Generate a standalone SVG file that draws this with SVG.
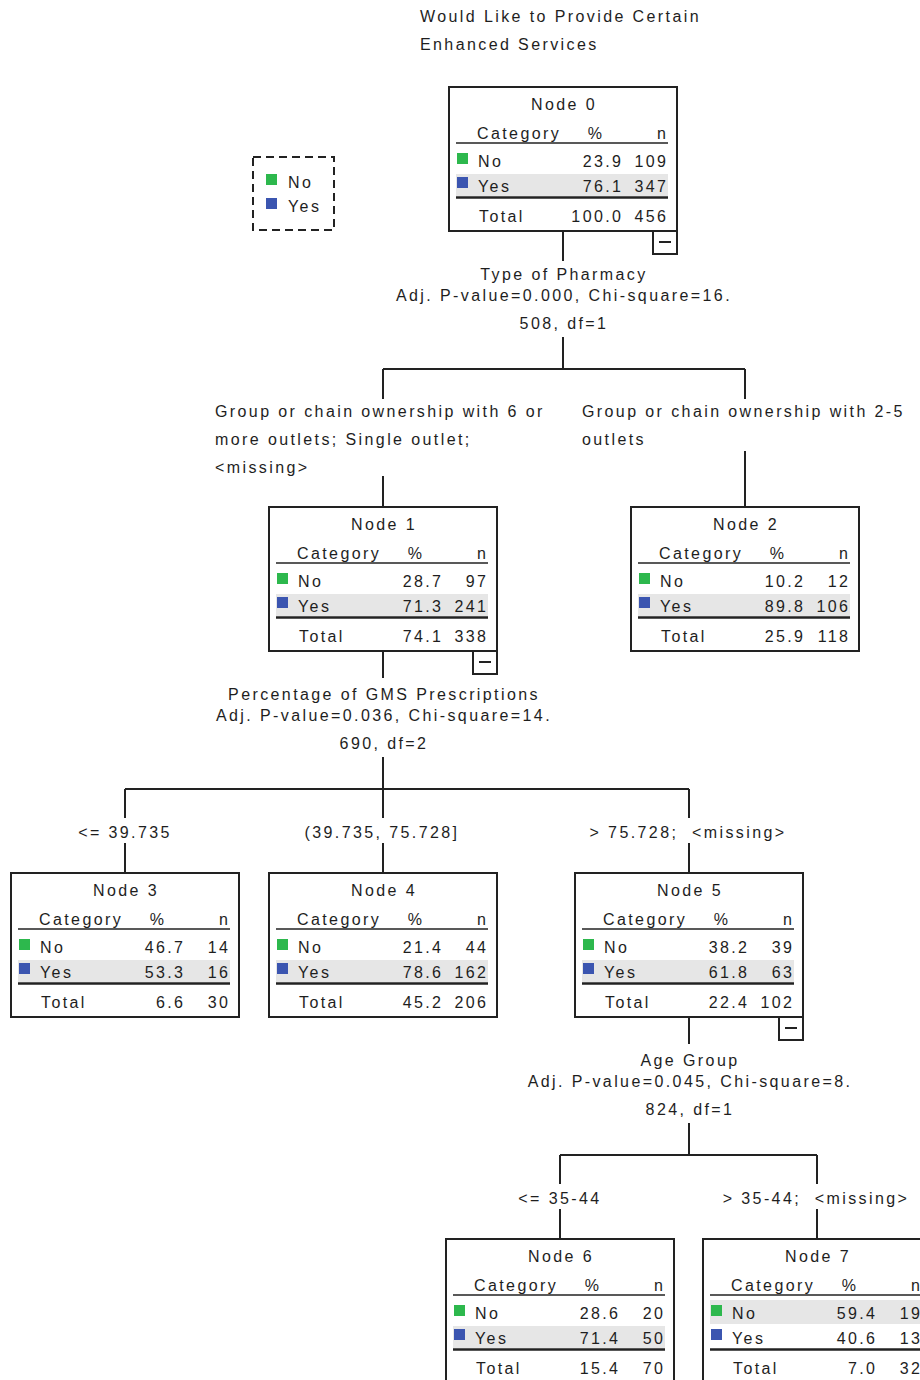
<svg xmlns="http://www.w3.org/2000/svg" width="920" height="1380" viewBox="0 0 920 1380">
<style>
.t{font-family:"Liberation Sans",Arial,sans-serif;font-size:16px;letter-spacing:2.4px;fill:#1e1e1e}
.m{text-anchor:middle}
.e{text-anchor:end}
.box{fill:#fff;stroke:#222;stroke-width:2}
.hl{fill:#e6e6e6}
.ln{stroke:#222;stroke-width:2;fill:none}
.hd{stroke:#222;stroke-width:1.6}
.tk{stroke:#222;stroke-width:2.6}
.g{fill:#2db84d}
.b{fill:#3b55b0}
</style>
<rect width="920" height="1380" fill="#fff"/>

<g id="title">
<text class="t" x="420" y="22">Would Like to Provide Certain</text>
<text class="t" x="420" y="50">Enhanced Services</text>
</g>

<g id="legend">
<rect x="253" y="157" width="81" height="73" fill="none" stroke="#222" stroke-width="2" stroke-dasharray="8 5"/>
<rect class="g" x="266" y="174" width="11" height="11"/>
<text class="t" x="288" y="188">No</text>
<rect class="b" x="266" y="198" width="11" height="11"/>
<text class="t" x="288" y="212">Yes</text>
</g>

<g id="connectors">
<path class="ln" d="M563 231V261M563 337V369M383 369H745M383 369V399M745 369V399M383 476V507M745 451V507"/>
<path class="ln" d="M383 651V678M383 757V789M125 789H689M125 789V818M383 789V818M689 789V818M125 843V873M383 843V873M689 843V873"/>
<path class="ln" d="M689 1017V1044M689 1123V1155M560 1155H817M560 1155V1184M817 1155V1184M560 1209V1239M817 1209V1239"/>
</g>

<g id="split-labels">
<text class="t m" x="564" y="280">Type of Pharmacy</text>
<text class="t m" x="564" y="301">Adj. P-value=0.000, Chi-square=16.</text>
<text class="t m" x="564" y="329">508, df=1</text>
<text class="t m" x="384" y="700">Percentage of GMS Prescriptions</text>
<text class="t m" x="384" y="721">Adj. P-value=0.036, Chi-square=14.</text>
<text class="t m" x="384" y="749">690, df=2</text>
<text class="t m" x="690" y="1066">Age Group</text>
<text class="t m" x="690" y="1087">Adj. P-value=0.045, Chi-square=8.</text>
<text class="t m" x="690" y="1115">824, df=1</text>
</g>

<g id="branch-labels">
<text class="t" x="215" y="417">Group or chain ownership with 6 or</text>
<text class="t" x="215" y="445">more outlets; Single outlet;</text>
<text class="t" x="215" y="473">&lt;missing&gt;</text>
<text class="t" x="582" y="417">Group or chain ownership with 2-5</text>
<text class="t" x="582" y="445">outlets</text>
<text class="t m" x="125" y="838">&lt;= 39.735</text>
<text class="t m" x="382" y="838">(39.735, 75.728]</text>
<text class="t m" x="688" y="838">&gt; 75.728;&#160; &lt;missing&gt;</text>
<text class="t m" x="560" y="1204">&lt;= 35-44</text>
<text class="t m" x="816" y="1204">&gt; 35-44;&#160; &lt;missing&gt;</text>
</g>

<g id="node0" transform="translate(449,87)">
<rect class="box" width="228" height="144"/>
<text class="t m" x="115" y="23">Node 0</text>
<text class="t" x="28" y="52">Category</text>
<text class="t m" x="147" y="52">%</text>
<text class="t e" x="219.4" y="52">n</text>
<line class="hd" x1="7" y1="56" x2="219" y2="56"/>
<rect class="hl" x="7" y="87" width="212" height="22"/>
<rect class="g" x="8" y="66" width="11" height="11"/>
<text class="t" x="29" y="80">No</text>
<text class="t e" x="174.4" y="80">23.9</text>
<text class="t e" x="219.4" y="80">109</text>
<rect class="b" x="8" y="90" width="11" height="11"/>
<text class="t" x="29" y="104.5">Yes</text>
<text class="t e" x="174.4" y="104.5">76.1</text>
<text class="t e" x="219.4" y="104.5">347</text>
<line class="tk" x1="7" y1="110.5" x2="219" y2="110.5"/>
<text class="t" x="30" y="134.5">Total</text>
<text class="t e" x="174.4" y="134.5">100.0</text>
<text class="t e" x="219.4" y="134.5">456</text>
<rect class="box" x="204" y="144" width="24" height="23"/>
<line class="ln" x1="210" y1="155" x2="222" y2="155"/>
</g>

<g id="node1" transform="translate(269,507)">
<rect class="box" width="228" height="144"/>
<text class="t m" x="115" y="23">Node 1</text>
<text class="t" x="28" y="52">Category</text>
<text class="t m" x="147" y="52">%</text>
<text class="t e" x="219.4" y="52">n</text>
<line class="hd" x1="7" y1="56" x2="219" y2="56"/>
<rect class="hl" x="7" y="87" width="212" height="22"/>
<rect class="g" x="8" y="66" width="11" height="11"/>
<text class="t" x="29" y="80">No</text>
<text class="t e" x="174.4" y="80">28.7</text>
<text class="t e" x="219.4" y="80">97</text>
<rect class="b" x="8" y="90" width="11" height="11"/>
<text class="t" x="29" y="104.5">Yes</text>
<text class="t e" x="174.4" y="104.5">71.3</text>
<text class="t e" x="219.4" y="104.5">241</text>
<line class="tk" x1="7" y1="110.5" x2="219" y2="110.5"/>
<text class="t" x="30" y="134.5">Total</text>
<text class="t e" x="174.4" y="134.5">74.1</text>
<text class="t e" x="219.4" y="134.5">338</text>
<rect class="box" x="204" y="144" width="24" height="23"/>
<line class="ln" x1="210" y1="155" x2="222" y2="155"/>
</g>

<g id="node2" transform="translate(631,507)">
<rect class="box" width="228" height="144"/>
<text class="t m" x="115" y="23">Node 2</text>
<text class="t" x="28" y="52">Category</text>
<text class="t m" x="147" y="52">%</text>
<text class="t e" x="219.4" y="52">n</text>
<line class="hd" x1="7" y1="56" x2="219" y2="56"/>
<rect class="hl" x="7" y="87" width="212" height="22"/>
<rect class="g" x="8" y="66" width="11" height="11"/>
<text class="t" x="29" y="80">No</text>
<text class="t e" x="174.4" y="80">10.2</text>
<text class="t e" x="219.4" y="80">12</text>
<rect class="b" x="8" y="90" width="11" height="11"/>
<text class="t" x="29" y="104.5">Yes</text>
<text class="t e" x="174.4" y="104.5">89.8</text>
<text class="t e" x="219.4" y="104.5">106</text>
<line class="tk" x1="7" y1="110.5" x2="219" y2="110.5"/>
<text class="t" x="30" y="134.5">Total</text>
<text class="t e" x="174.4" y="134.5">25.9</text>
<text class="t e" x="219.4" y="134.5">118</text>
</g>

<g id="node3" transform="translate(11,873)">
<rect class="box" width="228" height="144"/>
<text class="t m" x="115" y="23">Node 3</text>
<text class="t" x="28" y="52">Category</text>
<text class="t m" x="147" y="52">%</text>
<text class="t e" x="219.4" y="52">n</text>
<line class="hd" x1="7" y1="56" x2="219" y2="56"/>
<rect class="hl" x="7" y="87" width="212" height="22"/>
<rect class="g" x="8" y="66" width="11" height="11"/>
<text class="t" x="29" y="80">No</text>
<text class="t e" x="174.4" y="80">46.7</text>
<text class="t e" x="219.4" y="80">14</text>
<rect class="b" x="8" y="90" width="11" height="11"/>
<text class="t" x="29" y="104.5">Yes</text>
<text class="t e" x="174.4" y="104.5">53.3</text>
<text class="t e" x="219.4" y="104.5">16</text>
<line class="tk" x1="7" y1="110.5" x2="219" y2="110.5"/>
<text class="t" x="30" y="134.5">Total</text>
<text class="t e" x="174.4" y="134.5">6.6</text>
<text class="t e" x="219.4" y="134.5">30</text>
</g>

<g id="node4" transform="translate(269,873)">
<rect class="box" width="228" height="144"/>
<text class="t m" x="115" y="23">Node 4</text>
<text class="t" x="28" y="52">Category</text>
<text class="t m" x="147" y="52">%</text>
<text class="t e" x="219.4" y="52">n</text>
<line class="hd" x1="7" y1="56" x2="219" y2="56"/>
<rect class="hl" x="7" y="87" width="212" height="22"/>
<rect class="g" x="8" y="66" width="11" height="11"/>
<text class="t" x="29" y="80">No</text>
<text class="t e" x="174.4" y="80">21.4</text>
<text class="t e" x="219.4" y="80">44</text>
<rect class="b" x="8" y="90" width="11" height="11"/>
<text class="t" x="29" y="104.5">Yes</text>
<text class="t e" x="174.4" y="104.5">78.6</text>
<text class="t e" x="219.4" y="104.5">162</text>
<line class="tk" x1="7" y1="110.5" x2="219" y2="110.5"/>
<text class="t" x="30" y="134.5">Total</text>
<text class="t e" x="174.4" y="134.5">45.2</text>
<text class="t e" x="219.4" y="134.5">206</text>
</g>

<g id="node5" transform="translate(575,873)">
<rect class="box" width="228" height="144"/>
<text class="t m" x="115" y="23">Node 5</text>
<text class="t" x="28" y="52">Category</text>
<text class="t m" x="147" y="52">%</text>
<text class="t e" x="219.4" y="52">n</text>
<line class="hd" x1="7" y1="56" x2="219" y2="56"/>
<rect class="hl" x="7" y="87" width="212" height="22"/>
<rect class="g" x="8" y="66" width="11" height="11"/>
<text class="t" x="29" y="80">No</text>
<text class="t e" x="174.4" y="80">38.2</text>
<text class="t e" x="219.4" y="80">39</text>
<rect class="b" x="8" y="90" width="11" height="11"/>
<text class="t" x="29" y="104.5">Yes</text>
<text class="t e" x="174.4" y="104.5">61.8</text>
<text class="t e" x="219.4" y="104.5">63</text>
<line class="tk" x1="7" y1="110.5" x2="219" y2="110.5"/>
<text class="t" x="30" y="134.5">Total</text>
<text class="t e" x="174.4" y="134.5">22.4</text>
<text class="t e" x="219.4" y="134.5">102</text>
<rect class="box" x="204" y="144" width="24" height="23"/>
<line class="ln" x1="210" y1="155" x2="222" y2="155"/>
</g>

<g id="node6" transform="translate(446,1239)">
<rect class="box" width="228" height="144"/>
<text class="t m" x="115" y="23">Node 6</text>
<text class="t" x="28" y="52">Category</text>
<text class="t m" x="147" y="52">%</text>
<text class="t e" x="219.4" y="52">n</text>
<line class="hd" x1="7" y1="56" x2="219" y2="56"/>
<rect class="hl" x="7" y="87" width="212" height="22"/>
<rect class="g" x="8" y="66" width="11" height="11"/>
<text class="t" x="29" y="80">No</text>
<text class="t e" x="174.4" y="80">28.6</text>
<text class="t e" x="219.4" y="80">20</text>
<rect class="b" x="8" y="90" width="11" height="11"/>
<text class="t" x="29" y="104.5">Yes</text>
<text class="t e" x="174.4" y="104.5">71.4</text>
<text class="t e" x="219.4" y="104.5">50</text>
<line class="tk" x1="7" y1="110.5" x2="219" y2="110.5"/>
<text class="t" x="30" y="134.5">Total</text>
<text class="t e" x="174.4" y="134.5">15.4</text>
<text class="t e" x="219.4" y="134.5">70</text>
</g>

<g id="node7" transform="translate(703,1239)">
<rect class="box" width="228" height="144"/>
<text class="t m" x="115" y="23">Node 7</text>
<text class="t" x="28" y="52">Category</text>
<text class="t m" x="147" y="52">%</text>
<text class="t e" x="219.4" y="52">n</text>
<line class="hd" x1="7" y1="56" x2="219" y2="56"/>
<rect class="hl" x="7" y="61" width="212" height="24"/>
<rect class="g" x="8" y="66" width="11" height="11"/>
<text class="t" x="29" y="80">No</text>
<text class="t e" x="174.4" y="80">59.4</text>
<text class="t e" x="219.4" y="80">19</text>
<rect class="b" x="8" y="90" width="11" height="11"/>
<text class="t" x="29" y="104.5">Yes</text>
<text class="t e" x="174.4" y="104.5">40.6</text>
<text class="t e" x="219.4" y="104.5">13</text>
<line class="tk" x1="7" y1="110.5" x2="219" y2="110.5"/>
<text class="t" x="30" y="134.5">Total</text>
<text class="t e" x="174.4" y="134.5">7.0</text>
<text class="t e" x="219.4" y="134.5">32</text>
</g>
</svg>
